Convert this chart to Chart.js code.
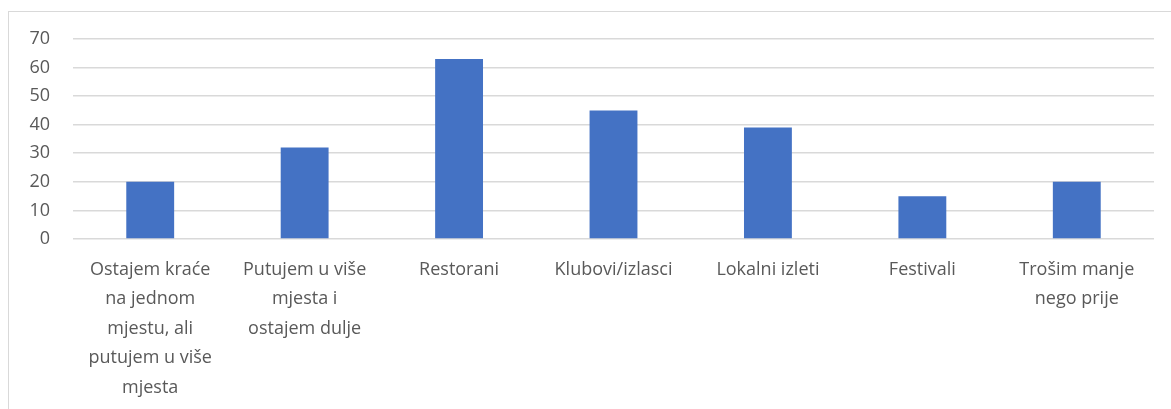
<!DOCTYPE html>
<html>
<head>
<meta charset="utf-8">
<script src="https://cdn.jsdelivr.net/npm/chart.js@4/dist/chart.umd.min.js"></script>
<style>
  body { margin: 0; background: #fff; }
  #wrap { position: relative; width: 1171px; height: 409px; overflow: hidden; }
  #frame { position: absolute; left: 8px; top: 11px; width: 1300px; height: 600px; border: 1px solid #d9d9d9; }
  #graph { position: absolute; left: 0; top: 0; }
</style>
</head>
<body>
<div id="wrap">
  <div id="frame"></div>
  <canvas id="graph" width="1171" height="409"></canvas>
</div>
<script>
'use strict'

let categories = [
    ['Ostajem kraće', 'na jednom', 'mjestu, ali', 'putujem u više', 'mjesta'],
    ['Putujem u više', 'mjesta i', 'ostajem dulje'],
    'Restorani',
    'Klubovi/izlasci',
    'Lokalni izleti',
    'Festivali',
    ['Trošim manje', 'nego prije']
];
let answers = [20, 32, 63, 45, 39, 15, 20];
let yTicks = [0, 10, 20, 30, 40, 50, 60, 70];

let textColor = '#595959';
let font = { family: 'Open Sans', size: 18, lineHeight: 1.64 };

new Chart('graph', {
    type: 'bar',
    data: {
        labels: categories,
        datasets: [{
            data: answers,
            backgroundColor: '#4472C4',
            borderWidth: 0,
            barPercentage: 0.62,
            categoryPercentage: 0.5
        }]
    },
    options: {
        responsive: false,
        animation: false,
        layout: { padding: { top: 39, right: 17, left: 0, bottom: 0 } },
        plugins: {
            legend: { display: false },
            tooltip: { enabled: false }
        },
        scales: {
            x: {
                afterFit: (scale) => { scale.height = 170; },
                grid: { display: false, drawTicks: false },
                border: { display: false },
                ticks: { color: textColor, font: font, padding: 16, maxRotation: 0, autoSkip: false }
            },
            y: {
                min: 0,
                max: 70,
                afterFit: (scale) => { scale.width = 73; },
                afterBuildTicks: (scale) => { scale.ticks = yTicks.map(v => ({ value: v })); },
                grid: { color: '#d9d9d9', lineWidth: 1.6, drawTicks: false },
                border: { display: false },
                ticks: { color: textColor, font: { family: 'Open Sans', size: 18 }, padding: 23 }
            }
        }
    }
});
</script>
</body>
</html>
